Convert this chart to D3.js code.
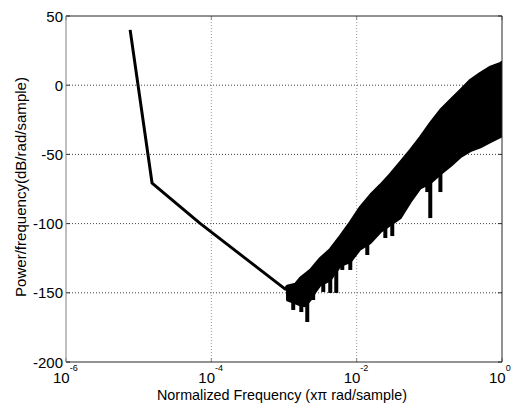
<!DOCTYPE html>
<html lang="en">
<head>
  <meta charset="UTF-8">
  <title>Power spectral density</title>
  <script src="https://d3js.org/d3.v7.min.js"></script>
  <style>
    body { margin: 0; background: #fff; }
    text { font-family: "Liberation Sans", Arial, sans-serif; fill: #000; }
  </style>
</head>
<body>
  <div id="chart"></div>
  <script>
    // values
    const lineFreq = [7.63e-6, 1.53e-5, 7.0e-5, 1.04e-3];
    const lineDb = [40, -70.8, -99.8, -147.3];

    const bandFreq = [1.11e-3, 1.43e-3, 1.67e-3, 1.96e-3, 2.30e-3, 2.69e-3, 3.16e-3, 4.33e-3, 5.94e-3, 8.17e-3,
      1.12e-2, 1.54e-2, 2.11e-2, 2.90e-2, 3.99e-2, 5.47e-2, 7.52e-2, 0.103, 0.142, 0.195,
      0.267, 0.367, 0.504, 0.692, 0.951, 1.0];
    const bandHigh = [-145.1, -143.6, -139.3, -136.4, -133.5, -129.2, -124.9, -118.4, -109.0, -98.8,
      -88.0, -79.3, -72.1, -64.2, -55.5, -46.8, -37.4, -27.3, -17.9, -10.7,
      -3.5, 3.8, 8.8, 13.2, 16.0, 16.8];
    const bandLow = [-155.2, -157.4, -158.8, -159.5, -155.2, -149.4, -144.4, -140.8, -130.6, -127.7,
      -118.4, -114.0, -106.1, -101.0, -96.0, -84.4, -74.3, -70.7, -64.2, -58.4,
      -51.9, -47.5, -44.7, -41.0, -37.4, -36.7];

    const spikeFreq = [1.34e-3, 1.73e-3, 2.09e-3, 2.52e-3, 3.47e-3, 4.33e-3, 5.24e-3, 6.34e-3, 8.17e-3,
      1.40e-2, 2.48e-2, 3.09e-2, 9.37e-2, 0.103, 0.142];
    const spikeTop = [-152, -150, -152, -145, -138, -135, -130, -122, -120,
      -112, -100, -98, -65, -65, -60];
    const spikeTip = [-162.4, -163.9, -171.1, -155.2, -149.4, -150.1, -150.1, -133.5, -133.5,
      -122.7, -110.4, -109.0, -77.2, -96.0, -77.2];

    const yTicks = [-200, -150, -100, -50, 0, 50];
    const xTicks = [1e-6, 1e-4, 1e-2, 1];
    const xExp = ["-6", "-4", "-2", "0"];

    const width = 511, height = 404;
    const mLeft = 66, mRight = 502, mTop = 16, mBottom = 362;

    const svg = d3.select("#chart").append("svg")
      .attr("width", width)
      .attr("height", height);

    const x = d3.scaleLog().domain([1e-6, 1]).range([mLeft, mRight]);
    const y = d3.scaleLinear().domain([-200, 50]).range([mBottom, mTop]);

    svg.append("clipPath").attr("id", "plot")
      .append("rect")
      .attr("x", mLeft).attr("y", mTop)
      .attr("width", mRight - mLeft).attr("height", mBottom - mTop);

    // grid
    svg.selectAll(".gy")
      .data(yTicks.filter(d => d > -200 && d < 50))
      .enter().append("line")
      .attr("x1", mLeft).attr("x2", mRight)
      .attr("y1", d => y(d)).attr("y2", d => y(d))
      .attr("stroke", "#444")
      .attr("stroke-dasharray", "1,2");
    svg.selectAll(".gx")
      .data(xTicks.slice(1, 3))
      .enter().append("line")
      .attr("y1", mTop).attr("y2", mBottom)
      .attr("x1", d => x(d)).attr("x2", d => x(d))
      .attr("stroke", "#999")
      .attr("stroke-dasharray", "1,2");

    // inward ticks
    yTicks.forEach(function(d) {
      svg.append("line").attr("x1", mLeft).attr("x2", mLeft + 4)
        .attr("y1", y(d)).attr("y2", y(d)).attr("stroke", "#333");
      svg.append("line").attr("x1", mRight - 4).attr("x2", mRight)
        .attr("y1", y(d)).attr("y2", y(d)).attr("stroke", "#333");
    });
    xTicks.forEach(function(d) {
      svg.append("line").attr("x1", x(d)).attr("x2", x(d))
        .attr("y1", mBottom).attr("y2", mBottom - 4).attr("stroke", "#888");
      svg.append("line").attr("x1", x(d)).attr("x2", x(d))
        .attr("y1", mTop).attr("y2", mTop + 4).attr("stroke", "#888");
    });

    const g = svg.append("g").attr("clip-path", "url(#plot)");

    // noise band
    const area = d3.area()
      .x(d => x(d[0]))
      .y0(d => y(d[2]))
      .y1(d => y(d[1]));
    g.append("path")
      .datum(bandFreq.map((f, i) => [f, bandHigh[i], bandLow[i]]))
      .attr("d", area)
      .attr("fill", "#000")
      .attr("stroke", "#000")
      .attr("stroke-width", 2.5)
      .attr("stroke-linejoin", "round");

    g.selectAll(".spike")
      .data(spikeFreq.map((f, i) => [f, spikeTop[i], spikeTip[i]]))
      .enter().append("line")
      .attr("x1", d => x(d[0])).attr("x2", d => x(d[0]))
      .attr("y1", d => y(d[1])).attr("y2", d => y(d[2]))
      .attr("stroke", "#000")
      .attr("stroke-width", 4);

    const line = d3.line().x(d => x(d[0])).y(d => y(d[1]));
    g.append("path")
      .datum(lineFreq.map((f, i) => [f, lineDb[i]]).concat([[bandFreq[0], bandHigh[0]]]))
      .attr("d", line)
      .attr("fill", "none")
      .attr("stroke", "#000")
      .attr("stroke-width", 3)
      .attr("stroke-linejoin", "round");

    // box
    svg.append("line").attr("x1", mLeft).attr("x2", mRight).attr("y1", mTop).attr("y2", mTop).attr("stroke", "#262626");
    svg.append("line").attr("x1", mLeft).attr("x2", mRight).attr("y1", mBottom).attr("y2", mBottom).attr("stroke", "#262626");
    svg.append("line").attr("x1", mRight).attr("x2", mRight).attr("y1", mTop).attr("y2", mBottom).attr("stroke", "#262626");
    svg.append("line").attr("x1", mLeft).attr("x2", mLeft).attr("y1", mTop).attr("y2", mBottom).attr("stroke", "#808080");

    // tick labels
    svg.selectAll(".yl")
      .data(yTicks)
      .enter().append("text")
      .attr("x", mLeft - 3)
      .attr("y", d => y(d) + 5.5)
      .attr("text-anchor", "end")
      .style("font-size", "15px")
      .text(d => d);

    const xl = svg.selectAll(".xl")
      .data(xTicks)
      .enter().append("text")
      .attr("x", (d, i) => x(d) - 13)
      .attr("y", 383)
      .style("font-size", "15px");
    xl.append("tspan").text("10");
    xl.append("tspan")
      .attr("dy", -12)
      .style("font-size", "9px")
      .text((d, i) => xExp[i]);

    svg.append("text")
      .attr("x", 282)
      .attr("y", 400)
      .attr("text-anchor", "middle")
      .attr("textLength", 250)
      .attr("lengthAdjust", "spacingAndGlyphs")
      .style("font-size", "15px")
      .text("Normalized Frequency (x\u03c0 rad/sample)");

    svg.append("text")
      .attr("transform", "translate(26,187) rotate(-90)")
      .attr("text-anchor", "middle")
      .attr("textLength", 220)
      .attr("lengthAdjust", "spacingAndGlyphs")
      .style("font-size", "15px")
      .text("Power/frequency(dB/rad/sample)");
  </script>
</body>
</html>
